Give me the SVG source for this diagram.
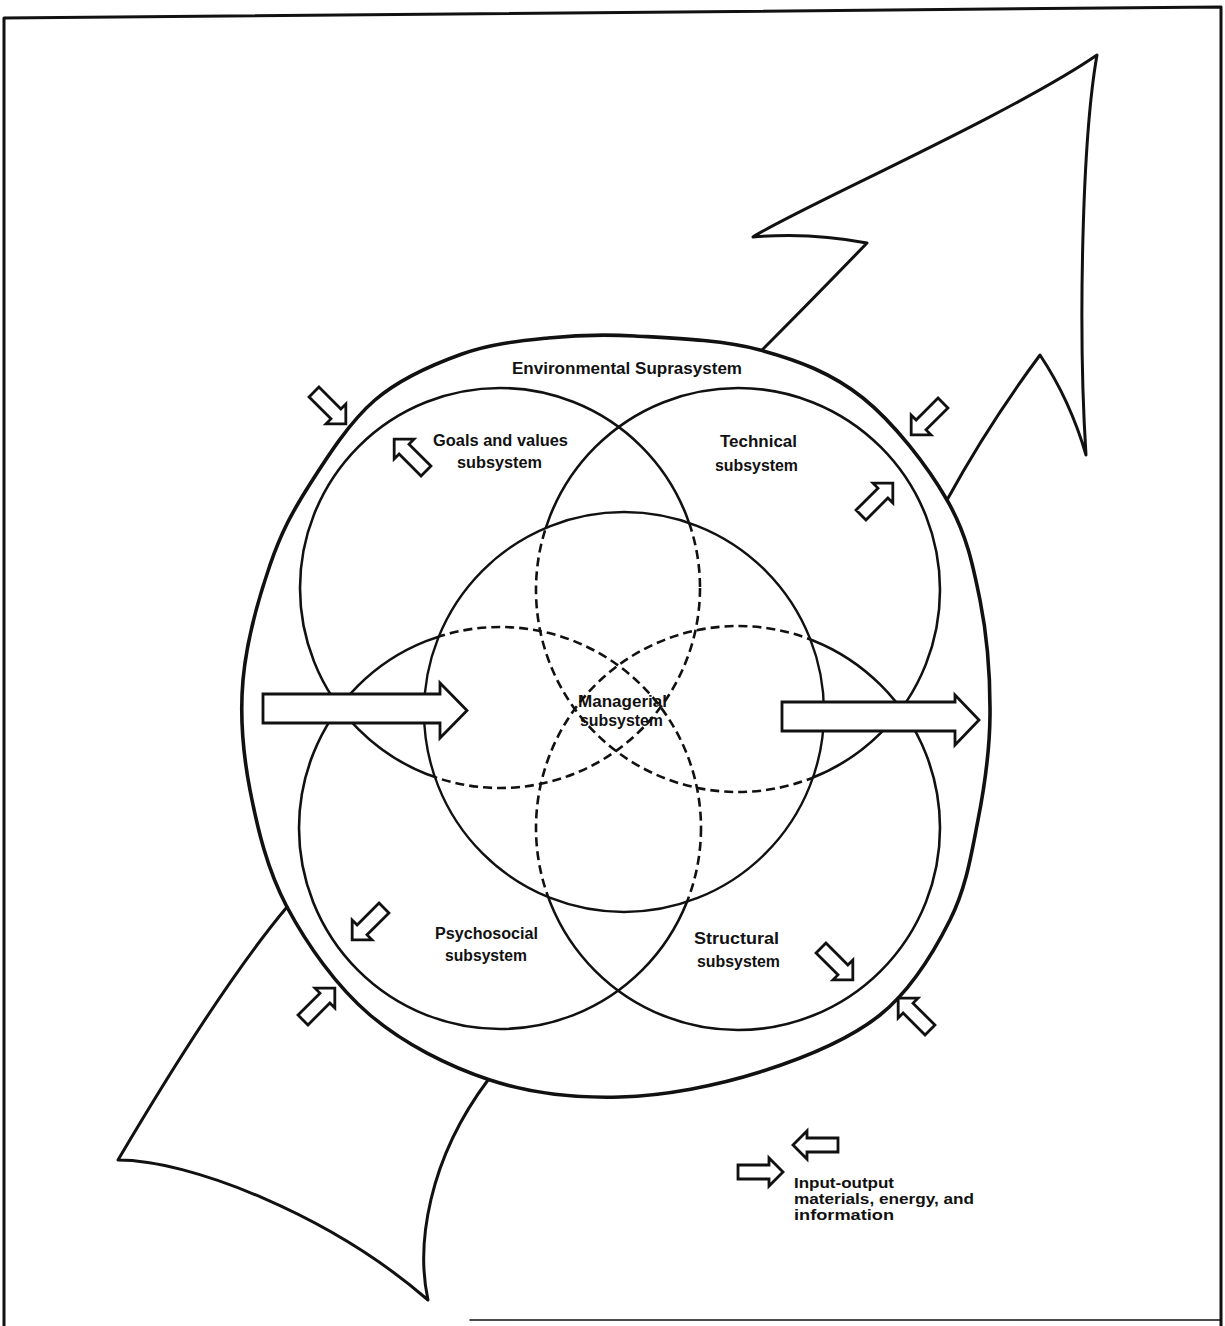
<svg xmlns="http://www.w3.org/2000/svg" xmlns:xlink="http://www.w3.org/1999/xlink" width="1225" height="1326" viewBox="0 0 1225 1326">
<style>
  .ln{fill:none;stroke:#111;stroke-linejoin:round;stroke-linecap:round}
  .outer{stroke-width:3.6}
  .sub{stroke-width:2.6}
  .dash{stroke-dasharray:9 5;stroke-linecap:butt}
  .mgr{stroke-width:2.4}
  .blk{fill:#fff;stroke:#111;stroke-width:2.8;stroke-linejoin:miter}
  .lbl{font-family:"Liberation Sans",Arial,sans-serif;font-weight:bold;font-size:16px;fill:#111}
  .leg{font-family:"Liberation Sans",Arial,sans-serif;font-weight:bold;font-size:14px;fill:#111}
</style>
<defs>
  <path id="sa" d="M0,-7 H31 V-14 L45,0 L31,14 V7 H0 Z"/>
  <clipPath id="inM"><circle cx="624" cy="712" r="200"/></clipPath>
  <clipPath id="outM"><path clip-rule="evenodd" d="M0,0H1225V1326H0Z M424,712 a200,200 0 1,0 400,0 a200,200 0 1,0 -400,0Z"/></clipPath>
</defs>
<rect width="1225" height="1326" fill="#fff"/>
<g id="frame">
  <path class="ln" stroke-width="3" d="M4,1326 V18 L1221,7 V1326"/>
  <path class="ln" stroke-width="1.5" d="M470,1320 H1221"/>
</g>
<g id="flow-arrows">
  <path id="big-arrow-out" class="ln" stroke-width="3" d="M762,350 Q812,300 867,243 Q810,232 753,237 C790,212 1010,115 1097,55 C1082,140 1078,330 1086,455 Q1070,400 1040,355 Q988,425 947,500"/>
  <path id="big-arrow-in" class="ln" stroke-width="3" d="M287,907 Q220.8,985.8 118,1160 C190,1160 330,1215 428,1300 C416,1245 428,1160 488,1080"/>
</g>
<g id="environment">
  <path class="ln outer" d="M635,336 C670.3,338 722,339.7 760,350 C798,360.3 831.8,373 863,398 C894.2,423 927.5,466.3 947,500 C966.5,533.7 972.8,564.2 980,600 C987.2,635.8 990.3,678.3 990,715 C989.7,751.7 984.7,785.8 978,820 C971.3,854.2 966.3,887.5 950,920 C933.7,952.5 911.7,989.7 880,1015 C848.3,1040.3 803.3,1058.3 760,1072 C716.7,1085.7 665,1095.7 620,1097 C575,1098.3 531.7,1093.7 490,1080 C448.3,1066.3 403.8,1043.8 370,1015 C336.2,986.2 307,944.5 287,907 C267,869.5 257.3,827.8 250,790 C242.7,752.2 239.7,717.5 243,680 C246.3,642.5 258.8,597.7 270,565 C281.2,532.3 292.5,511.5 310,484 C327.5,456.5 349.7,421.7 375,400 C400.3,378.3 433.2,364.3 462,354 C490.8,343.7 519.2,341 548,338 C576.8,335 599.7,334 635,336 Z"/>
  <text class="lbl" x="512" y="374" textLength="230" lengthAdjust="spacingAndGlyphs" font-size="17">Environmental Suprasystem</text>
</g>
<g id="goals">
  <circle class="ln sub" cx="500" cy="588" r="200" clip-path="url(#outM)"/>
  <circle class="ln sub dash" cx="500" cy="588" r="200" clip-path="url(#inM)"/>
  <text class="lbl" x="433" y="446" textLength="135" lengthAdjust="spacingAndGlyphs">Goals and values</text>
  <text class="lbl" x="457" y="468" textLength="85" lengthAdjust="spacingAndGlyphs">subsystem</text>
</g>
<g id="technical">
  <circle class="ln sub" cx="738" cy="590" r="202" clip-path="url(#outM)"/>
  <circle class="ln sub dash" cx="738" cy="590" r="202" clip-path="url(#inM)"/>
  <text class="lbl" x="720" y="447" textLength="77" lengthAdjust="spacingAndGlyphs">Technical</text>
  <text class="lbl" x="715" y="471" textLength="83" lengthAdjust="spacingAndGlyphs">subsystem</text>
</g>
<g id="psychosocial">
  <circle class="ln sub" cx="500" cy="828" r="201" clip-path="url(#outM)"/>
  <circle class="ln sub dash" cx="500" cy="828" r="201" clip-path="url(#inM)"/>
  <text class="lbl" x="435" y="939" textLength="103" lengthAdjust="spacingAndGlyphs">Psychosocial</text>
  <text class="lbl" x="445" y="961" textLength="82" lengthAdjust="spacingAndGlyphs">subsystem</text>
</g>
<g id="structural">
  <circle class="ln sub" cx="738" cy="828" r="202" clip-path="url(#outM)"/>
  <circle class="ln sub dash" cx="738" cy="828" r="202" clip-path="url(#inM)"/>
  <text class="lbl" x="694" y="944" textLength="85" lengthAdjust="spacingAndGlyphs">Structural</text>
  <text class="lbl" x="697" y="967" textLength="83" lengthAdjust="spacingAndGlyphs">subsystem</text>
</g>
<g id="managerial">
  <circle class="ln mgr" cx="624" cy="712" r="200"/>
  <text class="lbl" x="578" y="707" textLength="89" lengthAdjust="spacingAndGlyphs">Managerial</text>
  <text class="lbl" x="580" y="726" textLength="83" lengthAdjust="spacingAndGlyphs">subsystem</text>
</g>
<g id="connectors">
  <path class="blk" d="M263,694 H440 V683 L467,710.5 L440,738 V723 H263 Z"/>
  <path class="blk" d="M782,702 H955 V695 L979,720 L955,745 V731 H782 Z"/>
  <use href="#sa" class="blk" transform="translate(314,392) rotate(45)"/>
  <use href="#sa" class="blk" transform="translate(426,471) rotate(225)"/>
  <use href="#sa" class="blk" transform="translate(943,403) rotate(135)"/>
  <use href="#sa" class="blk" transform="translate(861,515) rotate(-45)"/>
  <use href="#sa" class="blk" transform="translate(384,908) rotate(135)"/>
  <use href="#sa" class="blk" transform="translate(303,1020) rotate(-45)"/>
  <use href="#sa" class="blk" transform="translate(821,948) rotate(45)"/>
  <use href="#sa" class="blk" transform="translate(930,1030) rotate(225)"/>
</g>
<g id="legend">
  <use href="#sa" class="blk" transform="translate(838,1145) rotate(180)"/>
  <use href="#sa" class="blk" transform="translate(738,1172)"/>
  <text class="leg" x="794" y="1188" textLength="100" lengthAdjust="spacingAndGlyphs">Input-output</text>
  <text class="leg" x="794" y="1204" textLength="180" lengthAdjust="spacingAndGlyphs">materials, energy, and</text>
  <text class="leg" x="794" y="1220" textLength="100" lengthAdjust="spacingAndGlyphs">information</text>
</g>
</svg>
